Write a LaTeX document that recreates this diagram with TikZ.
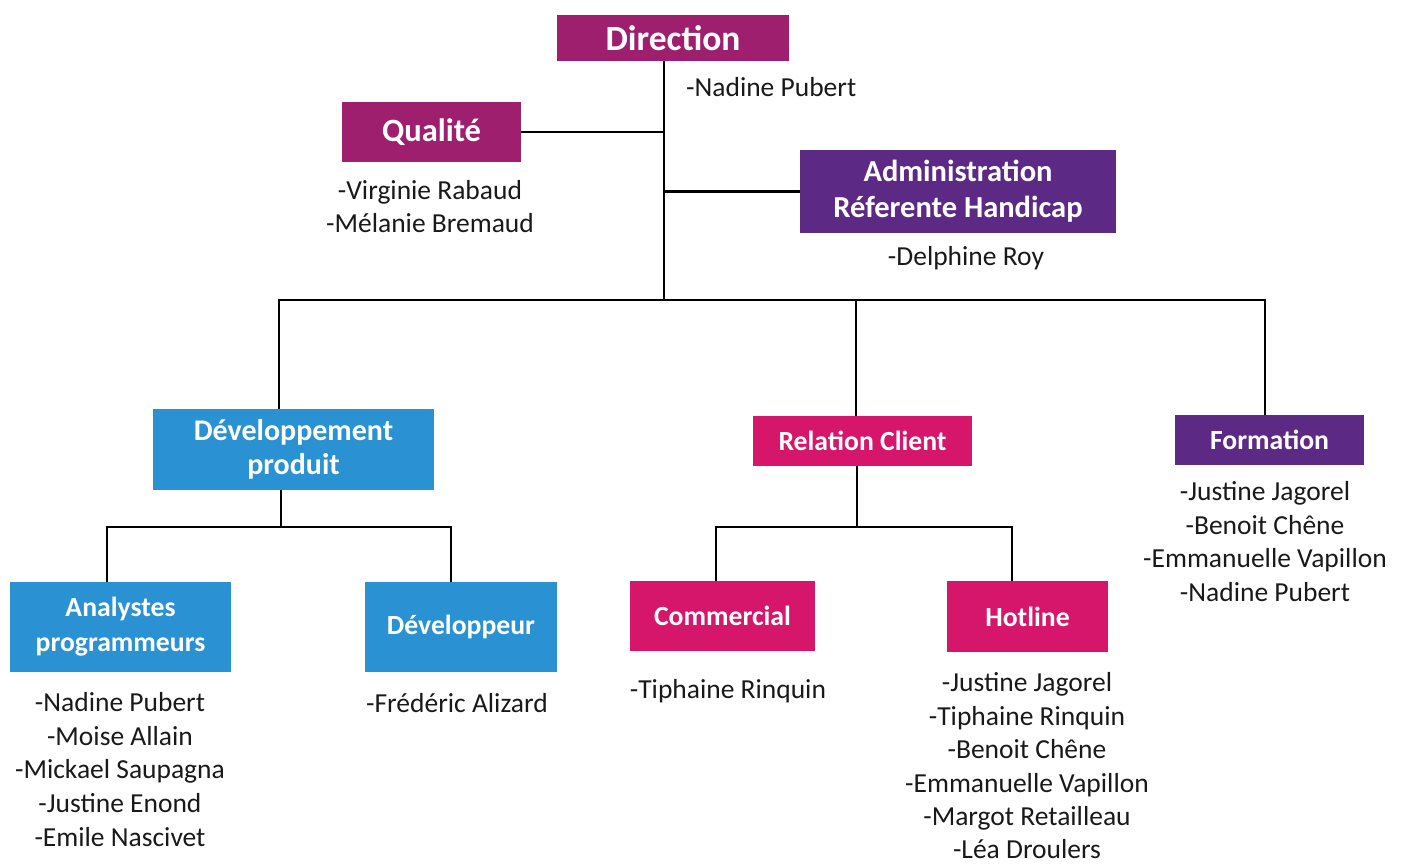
\documentclass[tikz,border=0pt]{standalone}
\usepackage{fontspec}
\setmainfont{Carlito}
\definecolor{cmag}{HTML}{9E1F6E}
\definecolor{cpur}{HTML}{5C2A84}
\definecolor{cblu}{HTML}{2A92D2}
\definecolor{cpink}{HTML}{D5166B}
\begin{document}
\begin{tikzpicture}[x=1pt,y=-1pt,
  box/.style={rectangle,inner sep=0pt,text=white,font=\fontsize{27.7}{35}\selectfont\bfseries,align=center},
  names/.style={inner sep=0pt,align=center,font=\fontsize{27.5}{33.8}\selectfont,text=black!90},
  link/.style={line width=2.6pt,black}]
\useasboundingbox (0,0) rectangle (1407,865);
% boxes
\node[box,fill=cmag,minimum width=232pt,minimum height=46pt,font=\fontsize{35.5}{40}\selectfont\bfseries] (dir) at (673,38) {Direction};
\node[box,fill=cmag,minimum width=179pt,minimum height=60pt,font=\fontsize{32.5}{38}\selectfont\bfseries] (qual) at (431.5,132) {Qualité};
\node[box,fill=cpur,minimum width=316pt,minimum height=83pt,font=\fontsize{30.5}{36}\selectfont\bfseries] (adm) at (958,191.5) {Administration\\Réferente Handicap};
\node[box,fill=cblu,minimum width=281pt,minimum height=81pt,font=\fontsize{30}{34}\selectfont\bfseries] (devp) at (293.5,449.5) {Développement\\produit};
\node[box,fill=cpink,minimum width=219pt,minimum height=50pt] (rel) at (862.5,441) {Relation Client};
\node[box,fill=cpur,minimum width=189pt,minimum height=50pt] (form) at (1269.5,440) {Formation};
\node[box,fill=cblu,minimum width=221pt,minimum height=90pt] (ana) at (120.5,627) {Analystes\\programmeurs};
\node[box,fill=cblu,minimum width=192pt,minimum height=90pt] (dev) at (461,627) {Développeur};
\node[box,fill=cpink,minimum width=185pt,minimum height=70pt] (com) at (722.5,616) {Commercial};
\node[box,fill=cpink,minimum width=161pt,minimum height=71pt] (hot) at (1027.5,616.5) {Hotline};
% names
\node[names,anchor=west] (ndir) at (686,87) {-Nadine Pubert};
\node[names] (nqual) at (430,206.5) {-Virginie Rabaud\\-Mélanie Bremaud};
\node[names] (nadm) at (966,258) {-Delphine Roy};
\node[names] (nana) at (120,769.5) {-Nadine Pubert\\-Moise Allain\\-Mickael Saupagna\\-Justine Enond\\-Emile Nascivet};
\node[names] (ndev) at (457,703) {-Frédéric Alizard};
\node[names] (ncom) at (728,691) {-Tiphaine Rinquin};
\node[names,font=\fontsize{27.5}{33.4}\selectfont] (nhot) at (1027,766) {-Justine Jagorel\\-Tiphaine Rinquin\\-Benoit Chêne\\-Emmanuelle Vapillon\\-Margot Retailleau\\-Léa Droulers};
\node[names] (nform) at (1265,541.5) {-Justine Jagorel\\-Benoit Chêne\\-Emmanuelle Vapillon\\-Nadine Pubert};
% connectors
\coordinate (trunk) at (664,300);
\coordinate (b1) at (279,300);
\coordinate (b2) at (856,300);
\coordinate (b3) at (1265,300);
\coordinate (d1) at (281,527);
\coordinate (d1l) at (107,527);
\coordinate (d1r) at (451,527);
\coordinate (r1) at (857,527);
\coordinate (r1l) at (716,527);
\coordinate (r1r) at (1012,527);
\draw[link] (dir.south -| trunk) -- (trunk);
\draw[link] (qual.east) -- (qual.east -| trunk);
\draw[link] (adm.west) -- (adm.west -| trunk);
\draw[link] (b1 |- devp.north) -- (b1) -- (b3) -- (b3 |- form.north);
\draw[link] (b2) -- (b2 |- rel.north);
\draw[link] (devp.south -| d1) -- (d1);
\draw[link] (d1l |- ana.north) -- (d1l) -- (d1r) -- (d1r |- dev.north);
\draw[link] (rel.south -| r1) -- (r1);
\draw[link] (r1l |- com.north) -- (r1l) -- (r1r) -- (r1r |- hot.north);
\end{tikzpicture}
\end{document}
